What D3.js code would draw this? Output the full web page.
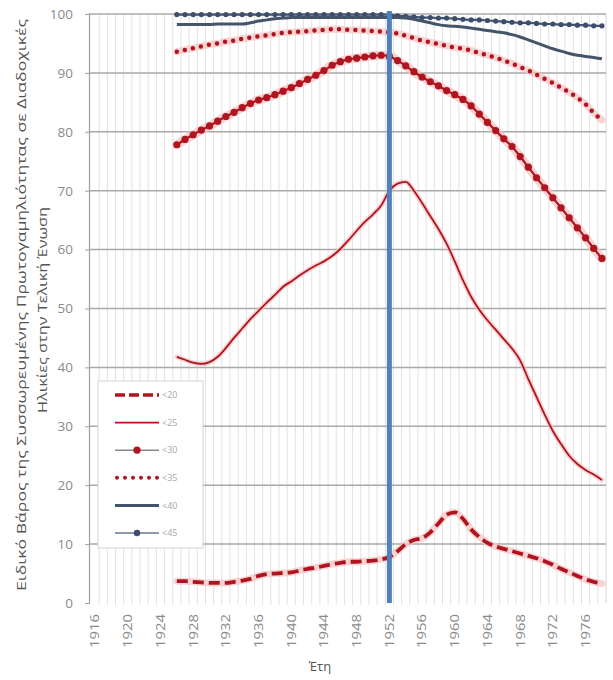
<!DOCTYPE html>
<html><head><meta charset="utf-8">
<script src="https://cdn.jsdelivr.net/npm/d3@7"></script>
<style>
html,body{margin:0;padding:0;background:#fff;}
text{font-family:"Open Sans","Noto Sans",sans-serif;}
</style></head>
<body><svg id="chart" width="613" height="680"></svg>
<script>
// ---- data ----
const axisYears = d3.range(1916, 1979);
const tickYears = d3.range(1916, 1977, 4);
const yTicks = [0,10,20,30,40,50,60,70,80,90,100];
const dataYears = d3.range(1926, 1979);
const seriesNames = ["<20","<25","<30","<35","<40","<45"];
const markerYear = 1952;

const s20 = [3.7,3.7,3.6,3.5,3.4,3.4,3.4,3.6,3.8,4.1,4.6,4.9,5.0,5.1,5.2,5.5,5.8,6.0,6.3,6.6,6.8,7.0,7.0,7.1,7.2,7.4,7.8,8.8,10.0,10.7,11.0,12.0,13.5,15.0,15.4,14.3,12.5,11.2,10.2,9.6,9.2,8.8,8.4,8.0,7.6,7.1,6.5,5.8,5.2,4.6,4.0,3.6,3.3];
const s25 = [41.8,41.3,40.8,40.6,40.9,41.8,43.3,45.0,46.6,48.2,49.6,51.0,52.3,53.7,54.6,55.6,56.5,57.3,58.0,58.9,60.1,61.6,63.2,64.7,66.0,67.5,70.0,71.2,71.5,70.0,67.9,65.7,63.5,61.0,58.0,54.8,52.0,49.8,48.0,46.4,44.8,43.2,41.2,38.0,35.0,32.0,29.2,27.0,25.0,23.6,22.6,21.8,20.9];
const s30 = [77.8,78.7,79.5,80.3,81.0,81.8,82.6,83.3,84.1,84.8,85.4,85.8,86.3,86.9,87.5,88.2,88.9,89.6,90.4,91.3,91.9,92.3,92.5,92.7,92.9,93.0,92.8,92.1,91.2,90.2,89.3,88.5,87.8,87.0,86.3,85.5,84.4,83.0,81.6,80.2,78.8,77.5,75.8,74.0,72.2,70.5,68.8,67.1,65.4,63.7,62.0,60.2,58.5];
const s35 = [93.6,93.9,94.2,94.5,94.8,95.0,95.3,95.5,95.8,96.0,96.2,96.4,96.6,96.8,96.9,97.0,97.1,97.2,97.3,97.4,97.4,97.3,97.3,97.2,97.1,97.0,96.9,96.7,96.3,95.9,95.5,95.2,94.9,94.6,94.3,94.1,93.8,93.4,93.0,92.6,92.1,91.6,91.0,90.4,89.7,89.0,88.3,87.5,86.7,85.8,84.7,83.2,82.0];
const s40 = [98.2,98.2,98.2,98.2,98.2,98.3,98.3,98.3,98.3,98.5,98.8,99.0,99.2,99.3,99.4,99.4,99.4,99.4,99.4,99.4,99.4,99.4,99.4,99.4,99.4,99.4,99.4,99.4,99.3,99.1,98.8,98.5,98.2,98.0,97.9,97.8,97.6,97.4,97.2,97.0,96.8,96.5,96.1,95.6,95.1,94.6,94.1,93.7,93.3,93.0,92.8,92.6,92.4];
const s45 = [99.9,99.9,99.9,99.9,99.9,99.9,99.9,99.9,99.9,99.9,99.9,99.9,99.9,99.9,99.9,99.9,99.9,99.9,99.9,99.9,99.9,99.9,99.9,99.9,99.9,99.9,99.9,99.7,99.6,99.5,99.4,99.4,99.3,99.3,99.2,99.1,99.0,99.0,98.9,98.8,98.7,98.6,98.5,98.5,98.4,98.3,98.3,98.2,98.2,98.1,98.1,98.0,98.0];
const yLabel1 = "Ειδικό Βάρος της Συσσωρευμένης Πρωτογαμηλιότητας σε Διαδοχικές";
const yLabel2 = "Ηλικίες στην Τελική Ένωση";
const xLabel = "Έτη";

// ---- layout ----
const svg = d3.select("#chart");
const x = d3.scaleBand().domain(axisYears).range([91, 606]).padding(0);
const xc = d => x(d) + x.bandwidth()/2;
const y = d3.scaleLinear().domain([0,100]).range([603, 14]);
const RED = "#b0141f", BLUEG = "#44546a";

// vertical gridlines (year boundaries)
svg.append("g").selectAll("line").data(axisYears.slice(1)).join("line")
  .attr("x1", d => x(d)).attr("x2", d => x(d))
  .attr("y1", y(100)).attr("y2", y(0)+2)
  .attr("stroke", "#e2e2e2").attr("stroke-width", 1);
svg.append("line").attr("x1", x.range()[1]).attr("x2", x.range()[1])
  .attr("y1", y(100)).attr("y2", y(0)).attr("stroke", "#d8d8d8");

// horizontal gridlines
svg.append("g").selectAll("line").data(yTicks.filter(d => d > 0)).join("line")
  .attr("x1", x.range()[0]-2).attr("x2", x.range()[1])
  .attr("y1", d => y(d)).attr("y2", d => y(d))
  .attr("stroke", "#a9a9a9").attr("stroke-width", 1.5);

// y axis
const yAxis = svg.append("g").attr("transform", `translate(${x.range()[0]-2},0)`)
  .call(d3.axisLeft(y).tickValues(yTicks).tickSize(4).tickPadding(12));
yAxis.select(".domain").attr("stroke", "#a0a0a0").attr("stroke-width", 1.2);
yAxis.selectAll(".tick line").attr("stroke", "#a0a0a0");
yAxis.selectAll(".tick text").attr("fill", "#8a8a8a").attr("font-size", 13.5)
  .style("font-family", "'Open Sans',sans-serif");

// x axis labels
const xAxis = svg.append("g").attr("transform", `translate(0,${y(0)})`)
  .call(d3.axisBottom(x).tickValues(tickYears).tickSize(0));
xAxis.select(".domain").remove();
xAxis.selectAll(".tick text")
  .attr("transform", "rotate(-90)")
  .attr("text-anchor", "end")
  .attr("x", -11).attr("y", 0).attr("dy", "0.35em")
  .attr("font-size", 12.5).attr("fill", "#8a8a8a")
  .attr("textLength", 34).attr("lengthAdjust", "spacingAndGlyphs")
  .style("font-family", "'Open Sans',sans-serif");

// series
const line = d3.line().x((d,i) => xc(dataYears[i])).y(d => y(d)).curve(d3.curveMonotoneX);
const g = svg.append("g");
function halo(vals, w){
  g.append("path").attr("d", line(vals)).attr("fill","none")
   .attr("stroke","#f6c2c2").attr("stroke-width", w).attr("stroke-linecap","round").attr("opacity",0.7);
}
// <45
g.append("path").attr("d", line(s45)).attr("fill","none").attr("stroke", BLUEG).attr("stroke-width", 2.2);
g.append("g").selectAll("circle").data(s45).join("circle")
  .attr("cx", (d,i) => xc(dataYears[i])).attr("cy", d => y(d)).attr("r", 2.6).attr("fill", "#3b4e6e");
// <40
g.append("path").attr("d", line(s40)).attr("fill","none").attr("stroke", BLUEG).attr("stroke-width", 3);
// <35
halo(s35, 7);
g.append("path").attr("d", line(s35)).attr("fill","none").attr("stroke", RED).attr("stroke-width", 4.5)
  .attr("stroke-dasharray", "0,8.2").attr("stroke-linecap", "round");
// <30
halo(s30, 9);
g.append("path").attr("d", line(s30)).attr("fill","none").attr("stroke", RED).attr("stroke-width", 2.2);
g.append("g").selectAll("circle").data(s30).join("circle")
  .attr("cx", (d,i) => xc(dataYears[i])).attr("cy", d => y(d)).attr("r", 3.6).attr("fill", RED);
// <25
halo(s25, 5);
g.append("path").attr("d", line(s25)).attr("fill","none").attr("stroke", RED).attr("stroke-width", 1.8);
// <20
halo(s20, 7);
g.append("path").attr("d", line(s20)).attr("fill","none").attr("stroke", RED).attr("stroke-width", 3.8)
  .attr("stroke-dasharray", "11,5");

// vertical marker at 1952
svg.append("line").attr("x1", xc(markerYear)).attr("x2", xc(markerYear))
  .attr("y1", y(100)-3).attr("y2", y(0)).attr("stroke", "#4f81bd").attr("stroke-width", 5);

// legend
const lg = svg.append("g");
lg.append("rect").attr("x", 98).attr("y", 381).attr("width", 105).attr("height", 167)
  .attr("fill", "#fff").attr("stroke", "#d4d4d4").attr("stroke-width", 1);
const legY = d3.scalePoint().domain(seriesNames).range([395, 533]);
const lx1 = 115, lx2 = 159;
seriesNames.forEach(n => {
  const yy = legY(n);
  const ln = lg.append("line").attr("x1", lx1).attr("x2", lx2).attr("y1", yy).attr("y2", yy);
  if (n === "<20") ln.attr("stroke", RED).attr("stroke-width", 3.5).attr("stroke-dasharray", "10,4");
  if (n === "<25") ln.attr("stroke", RED).attr("stroke-width", 1.8);
  if (n === "<30") { ln.attr("stroke", "#888").attr("stroke-width", 1.6);
    lg.append("circle").attr("cx", (lx1+lx2)/2).attr("cy", yy).attr("r", 3.6).attr("fill", RED); }
  if (n === "<35") ln.attr("stroke", RED).attr("stroke-width", 4).attr("stroke-dasharray", "0,8").attr("stroke-linecap","round").attr("x1", lx1+2);
  if (n === "<40") ln.attr("stroke", BLUEG).attr("stroke-width", 3);
  if (n === "<45") { ln.attr("stroke", "#6a7890").attr("stroke-width", 1.6);
    lg.append("circle").attr("cx", (lx1+lx2)/2).attr("cy", yy).attr("r", 3.2).attr("fill", "#3b4e6e"); }
  lg.append("text").attr("x", lx2+3).attr("y", yy).attr("dy", "0.35em")
    .attr("font-size", 9).attr("fill", "#a8a8a8").text(n);
});

// axis titles
svg.append("text").attr("transform", "translate(26,305) rotate(-90)")
  .attr("text-anchor", "middle").attr("font-size", 12.5).attr("fill", "#555")
  .attr("textLength", 572).attr("lengthAdjust", "spacingAndGlyphs").text(yLabel1);
svg.append("text").attr("transform", "translate(47,310) rotate(-90)")
  .attr("text-anchor", "middle").attr("font-size", 12.5).attr("fill", "#555")
  .attr("textLength", 206).attr("lengthAdjust", "spacingAndGlyphs").text(yLabel2);
svg.append("text").attr("x", 320).attr("y", 671).attr("text-anchor", "middle")
  .attr("font-size", 13).attr("fill", "#555").text(xLabel);
</script></body></html>
